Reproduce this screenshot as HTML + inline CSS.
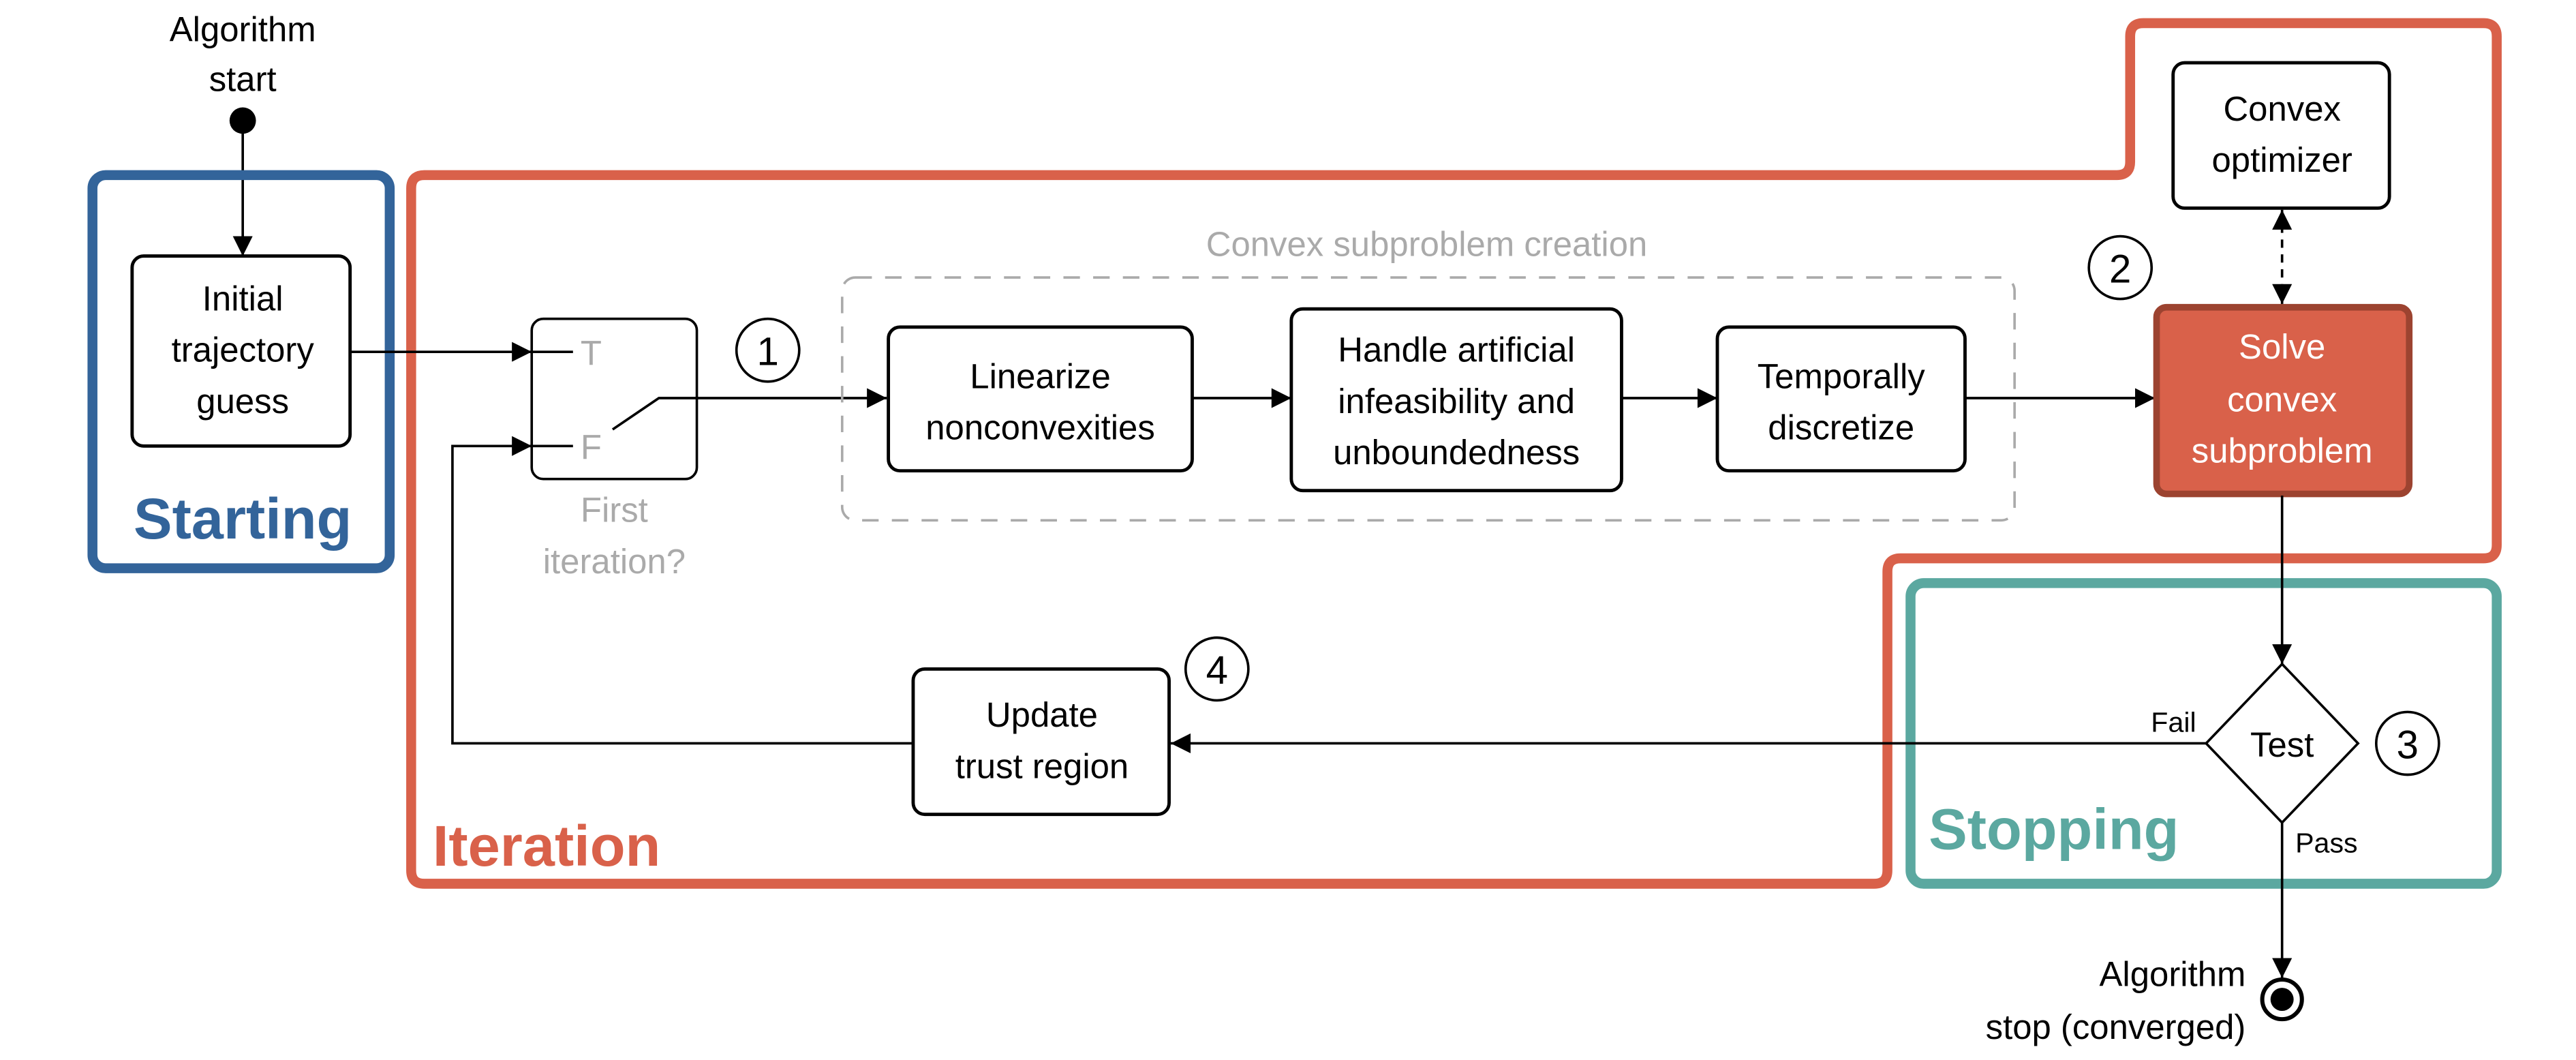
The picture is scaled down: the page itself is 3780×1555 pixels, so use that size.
<!DOCTYPE html>
<html><head><meta charset="utf-8"><style>
html,body{margin:0;padding:0;background:#fff;}
svg{display:block;}
text{font-family:"Liberation Sans",sans-serif;}
</style></head><body>
<svg width="3780" height="1555" viewBox="0 0 1560 641.7" preserveAspectRatio="none" xmlns="http://www.w3.org/2000/svg">
<defs>
<marker id="ar" viewBox="0 0 10 10" refX="10" refY="5" markerWidth="10" markerHeight="10" markerUnits="userSpaceOnUse" orient="auto-start-reverse">
<path d="M0,0 L10,5 L0,10 Z" fill="#000"/></marker>
<marker id="ar2" viewBox="0 0 10 10" refX="10" refY="5" markerWidth="16" markerHeight="12" markerUnits="userSpaceOnUse" orient="auto-start-reverse">
<path d="M0,0 L10,5 L0,10 Z" fill="#000"/></marker>
</defs>
<g font-size="21" text-anchor="middle" fill="#000">
<!-- Start -->
<text x="147" y="25">Algorithm</text>
<text x="147" y="55">start</text>
<circle cx="147" cy="73" r="8" fill="#000"/>
<line x1="147" y1="73" x2="147" y2="155" stroke="#000" stroke-width="1.5" marker-end="url(#ar2)"/>
<!-- Starting group -->
<rect x="56" y="106" width="180" height="238" rx="8" fill="none" stroke="#33649a" stroke-width="6"/>
<text x="147" y="326" font-size="35" font-weight="bold" fill="#33649a">Starting</text>
<rect x="80" y="155" width="132" height="115" rx="7" fill="#fff" stroke="#000" stroke-width="2"/>
<text x="147" y="188">Initial</text>
<text x="147" y="219">trajectory</text>
<text x="147" y="250">guess</text>
<!-- Iteration boundary -->
<path d="M257,106 H1282 Q1290,106 1290,98 V22 Q1290,14 1298,14 H1504 Q1512,14 1512,22 V330 Q1512,338 1504,338 H1151 Q1143,338 1143,346 V527 Q1143,535 1135,535 H257 Q249,535 249,527 V114 Q249,106 257,106 Z" fill="none" stroke="#d9614a" stroke-width="6"/>
<text x="262" y="524" font-size="35" font-weight="bold" fill="#d9614a" text-anchor="start">Iteration</text>
<!-- Stopping -->
<rect x="1157" y="353" width="355" height="182" rx="8" fill="none" stroke="#5ba8a0" stroke-width="6"/>
<text x="1168" y="514" font-size="35" font-weight="bold" fill="#5ba8a0" text-anchor="start">Stopping</text>
<!-- switch -->
<rect x="322" y="193" width="100" height="97" rx="7" fill="none" stroke="#000" stroke-width="1.5"/>
<line x1="212" y1="213" x2="322" y2="213" stroke="#000" stroke-width="1.5" marker-end="url(#ar2)"/>
<line x1="322" y1="213" x2="347" y2="213" stroke="#000" stroke-width="1.5"/>
<line x1="322" y1="270" x2="347" y2="270" stroke="#000" stroke-width="1.5"/>
<text x="358" y="221" fill="#aaa">T</text>
<text x="358" y="278" fill="#aaa">F</text>
<polyline points="371,260 399,241 537,241" fill="none" stroke="#000" stroke-width="1.5" marker-end="url(#ar2)"/>
<text x="372" y="316" fill="#aaa">First</text>
<text x="372" y="347" fill="#aaa">iteration?</text>
<circle cx="465" cy="212" r="19" fill="none" stroke="#000" stroke-width="1.5"/>
<text x="465" y="221" font-size="24">1</text>
<!-- dashed group -->
<rect x="510" y="168" width="710" height="147" rx="8" fill="none" stroke="#aaa" stroke-width="1.5" stroke-dasharray="10,8"/>
<text x="864" y="155" fill="#aaa">Convex subproblem creation</text>
<rect x="538" y="198" width="184" height="87" rx="7" fill="#fff" stroke="#000" stroke-width="2"/>
<text x="630" y="235">Linearize</text>
<text x="630" y="266">nonconvexities</text>
<line x1="722" y1="241" x2="782" y2="241" stroke="#000" stroke-width="1.5" marker-end="url(#ar2)"/>
<rect x="782" y="187" width="200" height="110" rx="7" fill="#fff" stroke="#000" stroke-width="2"/>
<text x="882" y="219">Handle artificial</text>
<text x="882" y="250">infeasibility and</text>
<text x="882" y="281">unboundedness</text>
<line x1="982" y1="241" x2="1040" y2="241" stroke="#000" stroke-width="1.5" marker-end="url(#ar2)"/>
<rect x="1040" y="198" width="150" height="87" rx="7" fill="#fff" stroke="#000" stroke-width="2"/>
<text x="1115" y="235">Temporally</text>
<text x="1115" y="266">discretize</text>
<line x1="1190" y1="241" x2="1305" y2="241" stroke="#000" stroke-width="1.5" marker-end="url(#ar2)"/>
<!-- solve -->
<rect x="1306" y="186" width="153" height="113" rx="6" fill="#d9614a" stroke="#9c4330" stroke-width="4"/>
<text x="1382" y="217" fill="#fff">Solve</text>
<text x="1382" y="249" fill="#fff">convex</text>
<text x="1382" y="280" fill="#fff">subproblem</text>
<rect x="1316" y="38" width="131" height="88" rx="7" fill="#fff" stroke="#000" stroke-width="2"/>
<text x="1382" y="73">Convex</text>
<text x="1382" y="104">optimizer</text>
<line x1="1382" y1="127" x2="1382" y2="184" stroke="#000" stroke-width="1.5" stroke-dasharray="5,4" marker-start="url(#ar2)" marker-end="url(#ar2)"/>
<circle cx="1284" cy="162" r="19" fill="none" stroke="#000" stroke-width="1.5"/>
<text x="1284" y="171" font-size="24">2</text>
<line x1="1382" y1="300" x2="1382" y2="402" stroke="#000" stroke-width="1.5" marker-end="url(#ar2)"/>
<!-- diamond -->
<polygon points="1382,402 1428,450 1382,498 1336,450" fill="#fff" stroke="#000" stroke-width="1.5"/>
<text x="1382" y="458">Test</text>
<circle cx="1458" cy="450" r="19" fill="none" stroke="#000" stroke-width="1.5"/>
<text x="1458" y="459" font-size="24">3</text>
<text x="1330" y="443" font-size="17" text-anchor="end">Fail</text>
<line x1="1336" y1="450" x2="709" y2="450" stroke="#000" stroke-width="1.5" marker-end="url(#ar2)"/>
<rect x="553" y="405" width="155" height="88" rx="7" fill="#fff" stroke="#000" stroke-width="2"/>
<text x="631" y="440">Update</text>
<text x="631" y="471">trust region</text>
<circle cx="737" cy="405" r="19" fill="none" stroke="#000" stroke-width="1.5"/>
<text x="737" y="414" font-size="24">4</text>
<polyline points="553,450 274,450 274,270 322,270" fill="none" stroke="#000" stroke-width="1.5" marker-end="url(#ar2)"/>
<text x="1390" y="516" font-size="17" text-anchor="start">Pass</text>
<line x1="1382" y1="498" x2="1382" y2="592" stroke="#000" stroke-width="1.5" marker-end="url(#ar2)"/>
<circle cx="1382" cy="605" r="12" fill="#fff" stroke="#000" stroke-width="2.5"/>
<circle cx="1382" cy="605" r="7" fill="#000"/>
<text x="1360" y="597" text-anchor="end">Algorithm</text>
<text x="1360" y="629" text-anchor="end">stop (converged)</text>
</g>
</svg>
</body></html>
